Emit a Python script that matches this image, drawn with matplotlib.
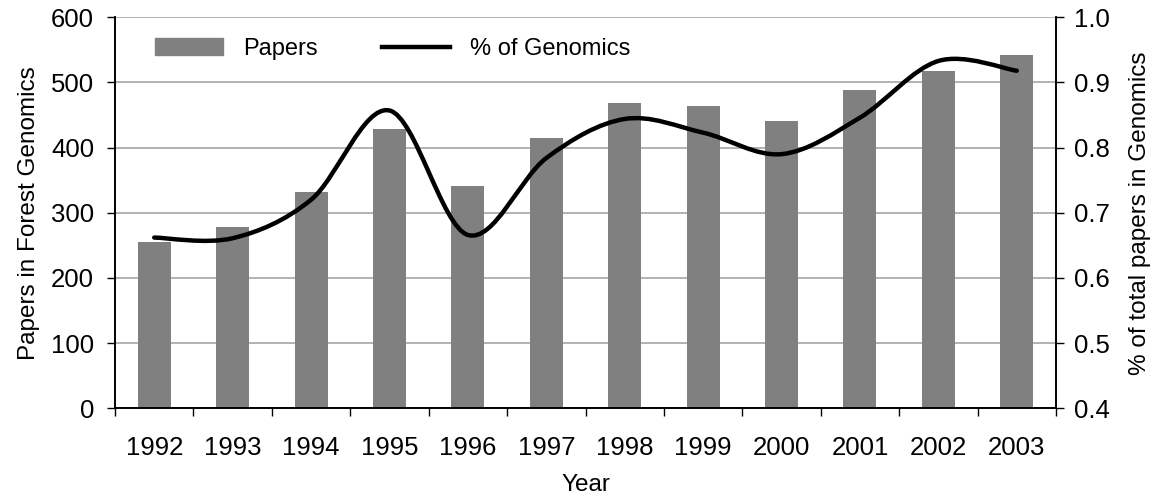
import numpy as np
import matplotlib
matplotlib.use("Agg")
import matplotlib.pyplot as plt
from matplotlib.path import Path
from matplotlib.patches import PathPatch
from matplotlib.lines import Line2D

plt.rcParams['font.family'] = ['Liberation Sans', 'DejaVu Sans']

years = ['1992', '1993', '1994', '1995', '1996', '1997',
         '1998', '1999', '2000', '2001', '2002', '2003']
papers = [255, 278, 332, 429, 341, 415, 469, 464, 441, 488, 518, 542]
pct_genomics = [0.662, 0.661, 0.720, 0.857, 0.666, 0.784,
                0.844, 0.823, 0.790, 0.846, 0.933, 0.918]

fig = plt.figure(figsize=(11.55, 4.99), dpi=100)
ax = fig.add_axes([115/1155, (499-408.3)/499, 941/1155, (408.3-17.3)/499])
ax2 = ax.twinx()

x = np.arange(len(years))
ax.bar(x, papers, width=0.42, color='#808080', zorder=2)
ax.set_xlim(-0.5, len(years) - 0.5)
ax.set_ylim(0, 600)
ax.set_yticks(range(0, 601, 100))
ax.yaxis.grid(True, color='#a6a6a6', linewidth=1.2, zorder=0)
ax.set_axisbelow(True)
ax.set_xticks(x)
ax.set_xticklabels(years)
ax.set_xticks(np.arange(-0.5, len(years), 1), minor=True)
ax.tick_params(axis='x', which='major', length=0, pad=20, labelsize=18.5)
ax.tick_params(axis='x', which='minor', length=6, direction='out', width=1)
ax.tick_params(axis='y', length=6, width=1, labelsize=18.5, pad=9)
ax.set_ylabel('Papers in Forest Genomics', fontsize=17.5, labelpad=8)
ax.set_xlabel('Year', fontsize=17.5, labelpad=10)

ax2.set_ylim(0.4, 1.0)
ax2.set_yticks(np.arange(0.4, 1.01, 0.1))
ax2.set_yticklabels(['%.1f' % v for v in np.arange(0.4, 1.01, 0.1)])
ax2.tick_params(axis='y', length=6, width=1, labelsize=18.5, pad=7)
ax2.set_ylabel('% of total papers in Genomics', fontsize=17.5, labelpad=14)

for a in (ax, ax2):
    a.spines['top'].set_visible(False)
    for s in ('left', 'right', 'bottom'):
        a.spines[s].set_linewidth(1.2)

# smoothed line (Catmull-Rom style bezier, like a spreadsheet smooth line)
pts = np.column_stack([x, pct_genomics]).astype(float)
ext = np.vstack([pts[0], pts, pts[-1]])
verts = [tuple(pts[0])]
codes = [Path.MOVETO]
for i in range(len(pts) - 1):
    p0, p1, p2, p3 = ext[i], ext[i+1], ext[i+2], ext[i+3]
    c1 = p1 + (p2 - p0) / 6.0
    c2 = p2 - (p3 - p1) / 6.0
    verts += [tuple(c1), tuple(c2), tuple(p2)]
    codes += [Path.CURVE4] * 3
ax2.add_patch(PathPatch(Path(verts, codes), facecolor='none',
                        edgecolor='black', linewidth=3.2, capstyle='round',
                        zorder=3))

handles = [plt.Rectangle((0, 0), 1, 1, color='#808080'),
           Line2D([], [], color='black', linewidth=3.2)]
ax2.legend(handles, ['Papers', '% of Genomics'], loc='upper left',
           bbox_to_anchor=(40/941, 0.947), ncol=2, frameon=False, fontsize=17,
           borderpad=0, borderaxespad=0,
           handlelength=2.9, handleheight=0.75, columnspacing=2.7,
           handletextpad=0.85)

fig.savefig('out.png', dpi=100)
